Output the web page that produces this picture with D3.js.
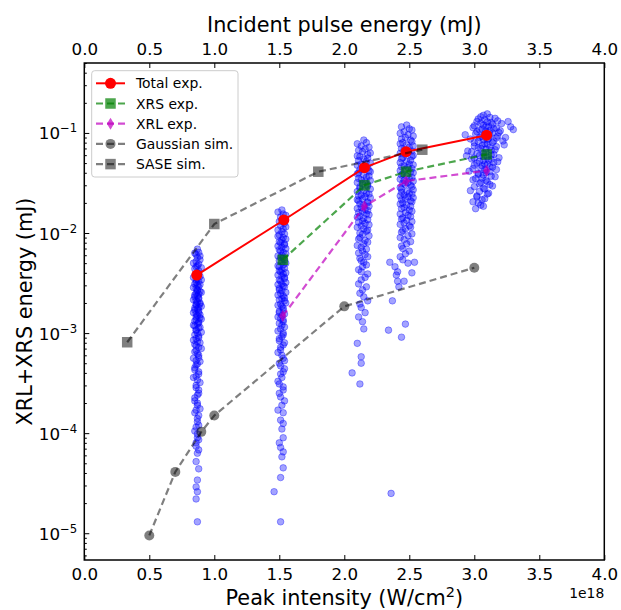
<!DOCTYPE html>
<html>
<head>
<meta charset="utf-8">
<script src="https://cdn.jsdelivr.net/npm/d3@7"></script>
<style>
  body { margin: 0; background: #fff; }
  svg text { font-family: "DejaVu Sans", sans-serif; fill: #000; }
</style>
</head>
<body>
<div id="chart"></div>
<script>
// measured shots (peak intensity in 1e18 W/cm2, XRL+XRS energy in mJ)
const shotsA = [
  [0.87,6.9e-3],[0.88,6.4e-3],[0.86,6.1e-3],[0.87,5.7e-3],[0.89,5.4e-3],[0.86,5.2e-3],[0.88,4.9e-3],[0.87,4.7e-3],[0.85,4.4e-3],[0.88,4.2e-3],
  [0.87,4.0e-3],[0.86,3.8e-3],[0.89,3.7e-3],[0.87,3.5e-3],[0.86,3.4e-3],[0.88,3.3e-3],[0.85,3.1e-3],[0.87,3.0e-3],[0.88,2.9e-3],[0.86,2.8e-3],
  [0.87,2.7e-3],[0.89,2.6e-3],[0.86,2.5e-3],[0.88,2.45e-3],[0.87,2.35e-3],[0.85,2.3e-3],[0.88,2.2e-3],[0.86,2.1e-3],[0.87,2.05e-3],[0.89,1.95e-3],
  [0.86,1.9e-3],[0.88,1.8e-3],[0.87,1.75e-3],[0.85,1.7e-3],[0.88,1.6e-3],[0.86,1.55e-3],[0.87,1.5e-3],[0.89,1.42e-3],[0.86,1.36e-3],[0.88,1.3e-3],
  [0.87,1.24e-3],[0.85,1.18e-3],[0.88,1.12e-3],[0.86,1.06e-3],[0.87,1.0e-3],[0.88,9.4e-4],[0.86,8.8e-4],[0.87,8.2e-4],[0.85,7.7e-4],[0.88,7.2e-4],
  [0.86,6.7e-4],[0.87,6.2e-4],[0.88,5.7e-4],[0.86,5.3e-4],[0.87,4.9e-4],[0.85,4.5e-4],[0.88,4.1e-4],[0.86,3.7e-4],[0.87,3.4e-4],[0.86,3.0e-4],
  [0.88,2.7e-4],[0.87,2.4e-4],[0.85,2.1e-4],[0.87,1.9e-4],[0.86,1.7e-4],[0.88,1.5e-4],[0.87,1.3e-4],[0.86,1.15e-4],[0.87,9.8e-5],[0.88,8.6e-5],
  [0.86,7.4e-5],[0.87,6.3e-5],[0.86,5.2e-5],[0.88,4.4e-5],[0.87,3.4e-5],[0.86,2.9e-5],[0.87,2.6e-5],[0.86,2.2e-5],[0.87,1.3e-5],
  [0.85,6.3e-3],[0.89,5.9e-3],[0.84,5.0e-3],[0.90,4.5e-3],[0.86,4.6e-3],[0.88,3.9e-3],[0.84,3.6e-3],[0.90,3.4e-3],[0.86,3.2e-3],[0.89,3.05e-3],
  [0.84,2.85e-3],[0.87,2.65e-3],[0.90,2.55e-3],[0.85,2.4e-3],[0.88,2.25e-3],[0.84,2.15e-3],[0.89,2.0e-3],[0.86,1.95e-3],[0.90,1.85e-3],[0.85,1.78e-3],
  [0.88,1.68e-3],[0.84,1.6e-3],[0.89,1.52e-3],[0.86,1.45e-3],[0.90,1.38e-3],[0.85,1.32e-3],[0.88,1.26e-3],[0.84,1.2e-3],[0.89,1.14e-3],[0.86,1.08e-3],
  [0.90,1.02e-3],[0.85,9.6e-4],[0.88,9.0e-4],[0.84,8.5e-4],[0.89,8.0e-4],[0.86,7.5e-4],[0.90,7.0e-4],[0.85,6.5e-4],[0.88,6.0e-4],[0.84,5.6e-4],
  [0.89,5.2e-4],[0.86,4.8e-4],[0.85,4.3e-4],[0.88,3.9e-4],[0.84,3.6e-4],[0.89,3.2e-4],[0.86,2.85e-4],[0.88,2.5e-4],[0.85,2.25e-4],[0.87,2.0e-4],
  [0.89,1.75e-4],[0.85,1.6e-4],[0.87,1.4e-4],[0.88,1.2e-4],[0.85,1.05e-4],[0.87,9.0e-5],[0.86,8.0e-5],[0.88,6.8e-5]
];
const shotsB = [
  [1.52,1.7e-2],[1.53,1.55e-2],[1.51,1.45e-2],[1.52,1.35e-2],[1.54,1.25e-2],[1.51,1.18e-2],[1.53,1.1e-2],[1.52,1.03e-2],[1.50,9.6e-3],[1.53,9.0e-3],
  [1.52,8.5e-3],[1.51,8.0e-3],[1.54,7.6e-3],[1.52,7.2e-3],[1.50,6.8e-3],[1.53,6.4e-3],[1.52,6.0e-3],[1.51,5.7e-3],[1.54,5.4e-3],[1.52,5.1e-3],
  [1.53,4.8e-3],[1.50,4.6e-3],[1.52,4.3e-3],[1.51,4.1e-3],[1.53,3.9e-3],[1.52,3.7e-3],[1.54,3.5e-3],[1.51,3.3e-3],[1.52,3.1e-3],[1.53,2.95e-3],
  [1.50,2.8e-3],[1.52,2.65e-3],[1.51,2.5e-3],[1.53,2.35e-3],[1.52,2.2e-3],[1.54,2.1e-3],[1.51,1.95e-3],[1.52,1.85e-3],[1.53,1.7e-3],[1.50,1.6e-3],
  [1.52,1.5e-3],[1.51,1.4e-3],[1.53,1.3e-3],[1.52,1.2e-3],[1.51,1.1e-3],[1.53,1.0e-3],[1.52,9.2e-4],[1.50,8.4e-4],[1.53,7.6e-4],[1.51,6.8e-4],
  [1.52,6.0e-4],[1.54,5.3e-4],[1.51,4.7e-4],[1.53,4.1e-4],[1.52,3.6e-4],[1.50,3.1e-4],[1.53,2.7e-4],[1.51,2.3e-4],[1.52,1.9e-4],[1.53,1.6e-4],
  [1.51,1.35e-4],[1.52,1.1e-4],[1.53,9e-5],[1.51,7.2e-5],[1.52,5.8e-5],[1.53,4.5e-5],[1.51,3.6e-5],[1.46,2.6e-5],[1.51,1.3e-5],
  [1.49,1.62e-2],[1.55,1.5e-2],[1.50,1.3e-2],[1.55,1.15e-2],[1.49,1.07e-2],[1.54,9.8e-3],[1.49,9.3e-3],[1.55,8.7e-3],[1.50,8.2e-3],[1.54,7.8e-3],
  [1.49,7.4e-3],[1.55,7.0e-3],[1.51,6.6e-3],[1.55,6.2e-3],[1.49,5.9e-3],[1.53,5.6e-3],[1.50,5.3e-3],[1.55,5.0e-3],[1.49,4.7e-3],[1.54,4.45e-3],
  [1.50,4.2e-3],[1.55,4.0e-3],[1.49,3.8e-3],[1.54,3.6e-3],[1.50,3.4e-3],[1.55,3.2e-3],[1.49,3.05e-3],[1.54,2.9e-3],[1.50,2.7e-3],[1.55,2.55e-3],
  [1.49,2.4e-3],[1.54,2.25e-3],[1.50,2.15e-3],[1.55,2.0e-3],[1.49,1.9e-3],[1.53,1.78e-3],[1.50,1.65e-3],[1.54,1.55e-3],[1.49,1.45e-3],[1.53,1.35e-3],
  [1.50,1.25e-3],[1.54,1.15e-3],[1.49,1.05e-3],[1.53,9.6e-4],[1.50,8.8e-4],[1.54,8.0e-4],[1.51,7.2e-4],[1.49,6.4e-4],[1.53,5.6e-4],[1.50,5.0e-4],
  [1.54,4.4e-4],[1.51,3.9e-4],[1.49,3.3e-4],[1.53,2.9e-4],[1.50,2.5e-4],[1.54,2.1e-4],[1.49,1.7e-4],[1.53,1.25e-4],[1.50,8e-5],[1.53,6.5e-5]
];
const shotsC = [
  [2.15,8.5e-2],[2.17,8.0e-2],[2.13,7.4e-2],[2.16,6.9e-2],[2.14,6.5e-2],[2.18,6.1e-2],[2.12,5.8e-2],[2.15,5.5e-2],[2.17,5.2e-2],[2.13,4.9e-2],
  [2.16,4.6e-2],[2.14,4.4e-2],[2.19,4.2e-2],[2.11,4.0e-2],[2.15,3.8e-2],[2.17,3.6e-2],[2.13,3.4e-2],[2.16,3.25e-2],[2.14,3.1e-2],[2.18,2.95e-2],
  [2.12,2.8e-2],[2.15,2.65e-2],[2.17,2.5e-2],[2.13,2.4e-2],[2.16,2.3e-2],[2.14,2.2e-2],[2.11,2.1e-2],[2.18,2.0e-2],[2.15,1.9e-2],[2.13,1.8e-2],
  [2.16,1.72e-2],[2.14,1.64e-2],[2.17,1.56e-2],[2.12,1.48e-2],[2.15,1.4e-2],[2.14,1.32e-2],[2.16,1.25e-2],[2.13,1.18e-2],[2.15,1.1e-2],[2.17,1.04e-2],
  [2.14,9.7e-3],[2.12,9.0e-3],[2.16,8.4e-3],[2.15,7.8e-3],[2.13,7.2e-3],[2.14,6.6e-3],[2.16,6.1e-3],[2.12,5.6e-3],[2.15,5.1e-3],[2.14,4.6e-3],
  [2.13,4.1e-3],[2.16,3.6e-3],[2.11,3.1e-3],[2.14,2.7e-3],[2.15,2.3e-3],[2.12,1.95e-3],[2.16,1.6e-3],[2.14,1.3e-3],[2.10,7.9e-4],[2.13,5.8e-4],
  [2.13,5.0e-4],[2.06,4.0e-4],[2.12,3.1e-4],[2.36,2.5e-5],
  [2.10,7.8e-2],[2.19,7.2e-2],[2.11,6.7e-2],[2.20,6.3e-2],[2.10,5.9e-2],[2.18,5.6e-2],[2.11,5.3e-2],[2.20,5.0e-2],[2.10,4.75e-2],[2.18,4.5e-2],
  [2.12,4.3e-2],[2.20,4.1e-2],[2.10,3.9e-2],[2.19,3.7e-2],[2.11,3.5e-2],[2.20,3.35e-2],[2.10,3.2e-2],[2.18,3.05e-2],[2.12,2.9e-2],[2.20,2.75e-2],
  [2.10,2.6e-2],[2.19,2.45e-2],[2.11,2.35e-2],[2.20,2.25e-2],[2.10,2.15e-2],[2.18,2.05e-2],[2.12,1.95e-2],[2.19,1.85e-2],[2.10,1.76e-2],[2.18,1.68e-2],
  [2.11,1.6e-2],[2.19,1.52e-2],[2.10,1.44e-2],[2.18,1.36e-2],[2.11,1.28e-2],[2.19,1.21e-2],[2.10,1.14e-2],[2.18,1.07e-2],[2.12,1.0e-2],[2.19,9.4e-3],
  [2.11,8.7e-3],[2.18,8.1e-3],[2.10,7.5e-3],[2.17,6.9e-3],[2.11,6.3e-3],[2.18,5.8e-3],[2.13,5.3e-3],[2.17,4.8e-3],[2.11,4.3e-3],[2.18,3.9e-3],
  [2.13,3.4e-3],[2.17,2.9e-3],[2.12,2.5e-3],[2.18,2.1e-3],[2.13,1.8e-3],[2.11,1.45e-3],[2.15,1.1e-3]
];
const shotsD = [
  [2.48,1.2e-1],[2.50,1.1e-1],[2.46,1.03e-1],[2.49,9.6e-2],[2.47,9.0e-2],[2.51,8.5e-2],[2.45,8.0e-2],[2.48,7.6e-2],[2.50,7.2e-2],[2.46,6.8e-2],
  [2.49,6.4e-2],[2.47,6.1e-2],[2.52,5.8e-2],[2.44,5.5e-2],[2.48,5.2e-2],[2.50,4.9e-2],[2.46,4.7e-2],[2.49,4.5e-2],[2.47,4.3e-2],[2.51,4.1e-2],
  [2.45,3.9e-2],[2.48,3.7e-2],[2.50,3.5e-2],[2.46,3.35e-2],[2.49,3.2e-2],[2.47,3.05e-2],[2.52,2.9e-2],[2.44,2.75e-2],[2.48,2.6e-2],[2.50,2.5e-2],
  [2.46,2.4e-2],[2.49,2.3e-2],[2.47,2.2e-2],[2.51,2.1e-2],[2.45,2.0e-2],[2.48,1.9e-2],[2.46,1.8e-2],[2.50,1.7e-2],[2.47,1.6e-2],[2.49,1.5e-2],
  [2.45,1.42e-2],[2.48,1.34e-2],[2.46,1.26e-2],[2.50,1.18e-2],[2.47,1.1e-2],[2.44,1.02e-2],[2.49,9.4e-3],[2.46,8.6e-3],[2.48,7.8e-3],[2.45,7.0e-3],
  [2.47,6.2e-3],[2.35,5.1e-3],[2.39,4.6e-3],[2.41,4.1e-3],[2.45,5.4e-3],[2.54,5.1e-3],[2.41,3.3e-3],[2.46,3.3e-3],[2.42,2.9e-3],[2.37,2.1e-3],
  [2.34,1.07e-3],[2.47,1.23e-3],[2.44,9.1e-4],
  [2.44,1.15e-1],[2.52,1.07e-1],[2.43,9.9e-2],[2.53,9.3e-2],[2.44,8.7e-2],[2.52,8.2e-2],[2.43,7.8e-2],[2.53,7.4e-2],[2.44,7.0e-2],[2.52,6.6e-2],
  [2.43,6.25e-2],[2.53,5.95e-2],[2.45,5.65e-2],[2.51,5.35e-2],[2.43,5.05e-2],[2.53,4.8e-2],[2.44,4.6e-2],[2.52,4.4e-2],[2.43,4.2e-2],[2.53,4.0e-2],
  [2.44,3.8e-2],[2.52,3.6e-2],[2.43,3.45e-2],[2.53,3.3e-2],[2.45,3.15e-2],[2.51,3.0e-2],[2.43,2.85e-2],[2.53,2.7e-2],[2.44,2.55e-2],[2.52,2.45e-2],
  [2.43,2.35e-2],[2.53,2.25e-2],[2.44,2.15e-2],[2.52,2.05e-2],[2.43,1.95e-2],[2.51,1.85e-2],[2.44,1.75e-2],[2.52,1.65e-2],[2.43,1.55e-2],[2.51,1.46e-2],
  [2.44,1.38e-2],[2.52,1.3e-2],[2.43,1.22e-2],[2.51,1.14e-2],[2.45,1.06e-2],[2.52,9.8e-3],[2.43,9.0e-3],[2.51,8.2e-3],[2.44,7.4e-3],[2.50,6.6e-3],
  [2.43,5.8e-3],[2.49,5.0e-3],[2.40,3.8e-3],[2.52,4.0e-3]
];
const shotsE = [
  [3.10,1.55e-1],[3.05,1.45e-1],[3.16,1.4e-1],[3.08,1.35e-1],[3.02,1.3e-1],[3.13,1.27e-1],[3.21,1.24e-1],[3.07,1.2e-1],[3.11,1.16e-1],[2.99,1.13e-1],
  [3.15,1.1e-1],[3.04,1.07e-1],[3.09,1.04e-1],[3.19,1.01e-1],[3.01,9.8e-2],[3.12,9.5e-2],[3.06,9.2e-2],[3.17,8.9e-2],[2.97,8.7e-2],[3.10,8.5e-2],
  [3.03,8.2e-2],[3.14,8.0e-2],[3.08,7.8e-2],[3.23,7.6e-2],[3.00,7.4e-2],[3.12,7.2e-2],[3.05,7.0e-2],[3.16,6.8e-2],[2.95,6.6e-2],[3.09,6.4e-2],
  [3.02,6.2e-2],[3.13,6.0e-2],[3.07,5.8e-2],[3.19,5.65e-2],[2.98,5.5e-2],[3.11,5.35e-2],[3.04,5.2e-2],[3.15,5.05e-2],[3.08,4.9e-2],[3.00,4.75e-2],
  [3.12,4.6e-2],[3.05,4.45e-2],[3.17,4.3e-2],[2.96,4.15e-2],[3.09,4.0e-2],[3.03,3.85e-2],[3.13,3.7e-2],[3.06,3.55e-2],[2.99,3.4e-2],[3.10,3.25e-2],
  [3.04,3.1e-2],[3.14,2.95e-2],[3.07,2.8e-2],[2.97,2.65e-2],[3.11,2.5e-2],[3.02,2.35e-2],[3.08,2.2e-2],[2.99,2.05e-2],[3.05,1.9e-2],[3.01,1.75e-2],
  [3.26,1.3e-1],[2.93,9.6e-2],[3.30,1.08e-1],[3.24,9.0e-2],[2.94,5.9e-2],[3.28,1.15e-1],
  [3.07,1.5e-1],[3.12,1.43e-1],[3.03,1.38e-1],[3.18,1.32e-1],[3.10,1.29e-1],[3.05,1.25e-1],[3.14,1.22e-1],[3.00,1.18e-1],[3.09,1.15e-1],[3.17,1.12e-1],
  [3.06,1.09e-1],[3.12,1.06e-1],[3.02,1.03e-1],[3.14,1.0e-1],[3.08,9.7e-2],[3.18,9.3e-2],[3.04,9.0e-2],[3.11,8.8e-2],[3.07,8.6e-2],[3.15,8.3e-2],
  [3.00,8.0e-2],[3.10,7.7e-2],[3.06,7.5e-2],[3.17,7.3e-2],[3.03,7.1e-2],[3.09,6.9e-2],[3.13,6.7e-2],[2.98,6.5e-2],[3.07,6.3e-2],[3.15,6.1e-2],
  [3.04,5.95e-2],[3.10,5.75e-2],[3.00,5.6e-2],[3.13,5.45e-2],[3.07,5.3e-2],[3.18,5.15e-2],[3.02,5.0e-2],[3.10,4.85e-2],[3.06,4.7e-2],[3.14,4.55e-2],
  [2.99,4.4e-2],[3.08,4.25e-2],[3.12,4.1e-2],[3.03,3.95e-2],[3.07,3.8e-2],[3.16,3.65e-2],[3.01,3.5e-2],[3.09,3.35e-2],[3.05,3.2e-2],[3.12,3.05e-2],
  [3.00,2.9e-2],[3.08,2.75e-2],[3.04,2.6e-2],[3.10,2.45e-2],[3.02,2.3e-2],[3.06,2.15e-2],[3.03,2.0e-2],[3.07,1.85e-2],[3.20,1.05e-1],[3.22,8.3e-2]
];

// averaged experiment and simulations
const totalX = [0.865, 1.535, 2.155, 2.475, 3.095];
const totalY = [3.8e-3, 1.35e-2, 4.5e-2, 6.5e-2, 9.5e-2];
const xrsX = [1.527, 2.155, 2.475, 3.095];
const xrsY = [5.4e-3, 3.0e-2, 4.1e-2, 6.1e-2];
const xrlX = [1.527, 2.155, 2.475, 3.095];
const xrlY = [1.48e-3, 1.85e-2, 3.3e-2, 4.2e-2];
const gaussX = [0.5, 0.7, 0.9, 1.0, 2.0, 3.0];
const gaussY = [9.5e-6, 4.1e-5, 1.03e-4, 1.5e-4, 1.85e-3, 4.5e-3];
const saseX = [0.33, 1.0, 1.8, 2.6];
const saseY = [8.1e-4, 1.23e-2, 4.1e-2, 6.8e-2];

const xTicks = [0, 0.5, 1, 1.5, 2, 2.5, 3, 3.5, 4];
const yTicks = [1e-5, 1e-4, 1e-3, 1e-2, 1e-1];
const yTickExp = ["−5", "−4", "−3", "−2", "−1"];

const W = 621, H = 610;
const plot = { left: 84.3, right: 604.3, top: 63, bottom: 560 };

const svg = d3.select("#chart").append("svg")
  .attr("width", W)
  .attr("height", H);

const xScale = d3.scaleLinear().domain([0, 4]).range([plot.left, plot.right]);
const yScale = d3.scaleLog().domain([5.4e-6, 0.5]).range([plot.bottom, plot.top]);

// shots cloud
const shots = [].concat(shotsA, shotsB, shotsC, shotsD, shotsE);
svg.append("g")
  .selectAll("circle")
  .data(shots)
  .enter()
  .append("circle")
  .attr("cx", (d) => xScale(d[0]))
  .attr("cy", (d) => yScale(d[1]))
  .attr("r", 3.3)
  .style("fill", "blue")
  .style("fill-opacity", 0.36)
  .style("stroke", "blue")
  .style("stroke-opacity", 0.4)
  .style("stroke-width", 0.9);

const series = [
  { name: "Total exp.", xs: totalX, ys: totalY, color: "#ff0000", alpha: 1, dash: null, marker: "circle", size: 5.5, width: 2 },
  { name: "XRS exp.", xs: xrsX, ys: xrsY, color: "#008000", alpha: 0.7, dash: "7,4", marker: "square", size: 10.5, width: 2.2 },
  { name: "XRL exp.", xs: xrlX, ys: xrlY, color: "#bf00bf", alpha: 0.7, dash: "7,4", marker: "diamond", size: 12, width: 2.2 },
  { name: "Gaussian sim.", xs: gaussX, ys: gaussY, color: "#000000", alpha: 0.5, dash: "7,4", marker: "circle", size: 5, width: 2.2 },
  { name: "SASE sim.", xs: saseX, ys: saseY, color: "#000000", alpha: 0.5, dash: "7,4", marker: "square", size: 10.5, width: 2.2 }
];

function drawMarker(g, type, cx, cy, size, color, alpha) {
  let m;
  if (type === "circle") {
    m = g.append("circle").attr("cx", cx).attr("cy", cy).attr("r", size);
  } else if (type === "square") {
    m = g.append("rect").attr("x", cx - size / 2).attr("y", cy - size / 2)
      .attr("width", size).attr("height", size);
  } else {
    const hh = size / 2, hw = size * 0.3;
    m = g.append("path")
      .attr("d", `M${cx},${cy - hh}L${cx + hw},${cy}L${cx},${cy + hh}L${cx - hw},${cy}Z`);
  }
  m.style("fill", color).style("fill-opacity", alpha);
}

const line = d3.line().x((d) => xScale(d[0])).y((d) => yScale(d[1]));

series.forEach((s) => {
  const pts = s.xs.map((x, i) => [x, s.ys[i]]);
  const g = svg.append("g");
  g.append("path")
    .datum(pts)
    .attr("d", line)
    .style("fill", "none")
    .style("stroke", s.color)
    .style("stroke-opacity", s.alpha)
    .style("stroke-width", s.width)
    .style("stroke-dasharray", s.dash);
  pts.forEach((p) => drawMarker(g, s.marker, xScale(p[0]), yScale(p[1]), s.size, s.color, s.alpha));
});

// axes, ticks pointing inward
const fmt = d3.format(".1f");
const bottomAxis = svg.append("g")
  .attr("transform", `translate(0,${plot.bottom})`)
  .call(d3.axisBottom(xScale).tickValues(xTicks).tickFormat(fmt).tickSizeInner(-5).tickSizeOuter(0).tickPadding(8));
const topAxis = svg.append("g")
  .attr("transform", `translate(0,${plot.top})`)
  .call(d3.axisTop(xScale).tickValues(xTicks).tickFormat(fmt).tickSizeInner(-5).tickSizeOuter(0).tickPadding(8));

const minorTicks = [];
for (let e = -6; e <= -1; e++) {
  for (let m = 2; m <= 9; m++) {
    const v = m * Math.pow(10, e);
    if (v >= 5.4e-6 && v <= 0.5) minorTicks.push(v);
  }
}
const leftMinor = svg.append("g")
  .attr("transform", `translate(${plot.left},0)`)
  .call(d3.axisLeft(yScale).tickValues(minorTicks).tickFormat("").tickSizeInner(-2.5).tickSizeOuter(0));
const leftMajor = svg.append("g")
  .attr("transform", `translate(${plot.left},0)`)
  .call(d3.axisLeft(yScale).tickValues(yTicks).tickFormat("").tickSizeInner(-5).tickSizeOuter(0));

[bottomAxis, topAxis, leftMinor, leftMajor].forEach((a) => {
  a.select(".domain").remove();
  a.selectAll("line").style("stroke", "#000").style("stroke-width", 1);
  a.selectAll("text").style("font-size", "16.7px").style("font-family", "DejaVu Sans");
});

yTicks.forEach((v, i) => {
  const t = svg.append("text")
    .attr("x", plot.left - 7)
    .attr("y", yScale(v) + 6.5)
    .attr("text-anchor", "end")
    .style("font-size", "16.7px");
  t.append("tspan").text("10");
  t.append("tspan").attr("dy", -7).style("font-size", "11.7px").text(yTickExp[i]);
});

svg.append("rect")
  .attr("x", plot.left)
  .attr("y", plot.top)
  .attr("width", plot.right - plot.left)
  .attr("height", plot.bottom - plot.top)
  .style("fill", "none")
  .style("stroke", "#000")
  .style("stroke-width", 1.5);

// labels
const xl = svg.append("text")
  .attr("x", (plot.left + plot.right) / 2)
  .attr("y", 605)
  .attr("text-anchor", "middle")
  .style("font-size", "20.8px");
xl.append("tspan").text("Peak intensity (W/cm");
xl.append("tspan").attr("dy", -8).style("font-size", "14.5px").text("2");
xl.append("tspan").attr("dy", 8).text(")");

svg.append("text")
  .attr("x", (plot.left + plot.right) / 2)
  .attr("y", 32)
  .attr("text-anchor", "middle")
  .style("font-size", "20.8px")
  .text("Incident pulse energy (mJ)");

svg.append("text")
  .attr("transform", `translate(32,${(plot.top + plot.bottom) / 2}) rotate(-90)`)
  .attr("text-anchor", "middle")
  .style("font-size", "20.8px")
  .text("XRL+XRS energy (mJ)");

svg.append("text")
  .attr("x", plot.right)
  .attr("y", 598)
  .attr("text-anchor", "end")
  .style("font-size", "13.9px")
  .text("1e18");

// legend
const legend = svg.append("g");
legend.append("rect")
  .attr("x", 91.7)
  .attr("y", 70.7)
  .attr("width", 146.3)
  .attr("height", 106.3)
  .attr("rx", 3)
  .style("fill", "#fff")
  .style("fill-opacity", 0.8)
  .style("stroke", "#cccccc")
  .style("stroke-width", 1);

series.forEach((s, i) => {
  const cy = 83.3 + i * 20.2;
  legend.append("line")
    .attr("x1", 96).attr("x2", 125)
    .attr("y1", cy).attr("y2", cy)
    .style("stroke", s.color)
    .style("stroke-opacity", s.alpha)
    .style("stroke-width", s.width)
    .style("stroke-dasharray", s.dash);
  drawMarker(legend, s.marker, 110.5, cy, s.size, s.color, s.alpha);
  legend.append("text")
    .attr("x", 136)
    .attr("y", cy + 5)
    .style("font-size", "13.9px")
    .text(s.name);
});
</script>
</body>
</html>
